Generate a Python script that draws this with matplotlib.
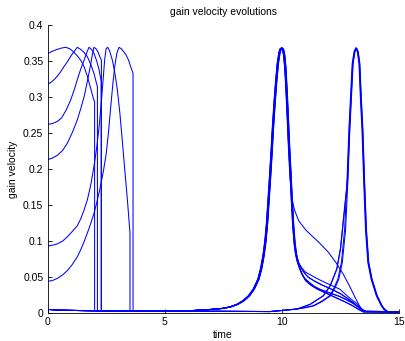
import matplotlib
matplotlib.use("Agg")
import matplotlib.pyplot as plt

# ---- left cluster: (time, gain velocity) up to the vertical drop ----
A_t = [0.0, 0.2, 0.4, 0.6, 0.78, 0.95, 1.1, 1.25, 1.42, 1.55, 1.7, 1.84, 1.95, 2.01]
A_v = [0.360, 0.3635, 0.366, 0.368, 0.369, 0.367, 0.363, 0.358, 0.351, 0.343, 0.329, 0.312, 0.299, 0.293]
B_t = [0.0, 0.14, 0.28, 0.42, 0.56, 0.7, 0.85, 1.0, 1.13, 1.27, 1.42, 1.56, 1.70, 1.85, 1.98, 2.13]
B_v = [0.318, 0.320, 0.324, 0.329, 0.335, 0.342, 0.349, 0.357, 0.363, 0.369, 0.366, 0.362, 0.356, 0.345, 0.333, 0.314]
C_t = [0.0, 0.2, 0.42, 0.6, 0.8, 0.99, 1.15, 1.27, 1.42, 1.56, 1.68, 1.77, 1.88, 1.98, 2.1, 2.2, 2.29]
C_v = [0.262, 0.263, 0.266, 0.271, 0.282, 0.296, 0.311, 0.324, 0.339, 0.351, 0.362, 0.369, 0.366, 0.361, 0.350, 0.338, 0.322]
D_t = [0.0, 0.2, 0.42, 0.65, 0.85, 1.05, 1.27, 1.42, 1.56, 1.67, 1.77, 1.85, 1.91, 1.98, 2.07, 2.15, 2.22, 2.30]
D_v = [0.213, 0.215, 0.219, 0.226, 0.236, 0.250, 0.268, 0.284, 0.300, 0.317, 0.333, 0.347, 0.358, 0.369, 0.367, 0.363, 0.357, 0.351]
E_t = [0.0, 0.2, 0.42, 0.65, 0.85, 1.05, 1.27, 1.42, 1.56, 1.7, 1.84, 1.98, 2.1, 2.2, 2.3, 2.38,
       2.44, 2.5, 2.57, 2.65, 2.77, 2.88, 2.98, 3.09, 3.19, 3.3, 3.41, 3.52]
E_v = [0.093, 0.094, 0.096, 0.100, 0.106, 0.113, 0.121, 0.131, 0.143, 0.157, 0.177, 0.203, 0.230, 0.258,
       0.294, 0.327, 0.352, 0.367, 0.369, 0.364, 0.351, 0.332, 0.310, 0.277, 0.240, 0.198, 0.157, 0.111]
F_t = [0.0, 0.2, 0.42, 0.65, 0.85, 1.05, 1.27, 1.42, 1.56, 1.7, 1.84, 1.98, 2.1, 2.24, 2.38, 2.5,
       2.6, 2.7, 2.8, 2.88, 2.96, 3.05, 3.15, 3.25, 3.34, 3.45, 3.55, 3.65]
F_v = [0.044, 0.045, 0.048, 0.053, 0.059, 0.067, 0.078, 0.088, 0.099, 0.111, 0.124, 0.138, 0.153, 0.173,
       0.196, 0.220, 0.250, 0.287, 0.322, 0.345, 0.361, 0.369, 0.367, 0.363, 0.359, 0.352, 0.342, 0.333]

# baseline level after a drop
base_t = [4.0]
base_v = [0.003]
# start of the curves that begin near zero
zero_t = [0.0, 0.5, 2.0, 4.0]
zero_v = [0.005, 0.004, 0.003, 0.003]

# ---- first peak (t = 10) ----
P1_t = [5.0, 6.0, 6.5, 7.0, 7.5, 7.8, 8.1, 8.36, 8.6, 8.8, 9.0, 9.12, 9.22, 9.30, 9.37, 9.43,
        9.50, 9.56, 9.62, 9.69, 9.76, 9.83, 9.90, 9.95, 10.0, 10.05, 10.1, 10.15, 10.2, 10.25,
        10.30, 10.36, 10.42, 10.48, 10.54, 10.6, 10.67, 10.75, 10.85, 10.99, 11.2, 11.4,
        11.63, 12.05, 12.48, 12.8, 13.05, 13.25, 13.41, 13.6, 15.0]
P1_v = [0.0025, 0.003, 0.004, 0.005, 0.0065, 0.0085, 0.012, 0.017, 0.024, 0.033, 0.047, 0.062, 0.080,
        0.100, 0.125, 0.155, 0.190, 0.222, 0.257, 0.292, 0.322, 0.347, 0.362, 0.367, 0.368, 0.366,
        0.358, 0.340, 0.310, 0.275, 0.237, 0.198, 0.158, 0.122, 0.097, 0.082, 0.072, 0.064, 0.056,
        0.048, 0.042, 0.037, 0.033, 0.028, 0.023, 0.018, 0.0135, 0.009, 0.005, 0.002, 0.0015]
# high tail variant (leaves the band after t = 10.36)
T1_t = [10.42, 10.48, 10.57, 10.75, 11.06, 11.35, 11.63, 12.0, 12.34, 12.65, 12.91, 13.15, 13.34, 13.5, 15.0]
T1_v = [0.172, 0.156, 0.143, 0.128, 0.115, 0.106, 0.0975, 0.085, 0.070, 0.054, 0.038, 0.022, 0.010, 0.003, 0.0015]
# medium tail variant (leaves the band after t = 10.6)
T2_t = [10.71, 11.0, 11.49, 12.0, 12.48, 12.85, 13.2, 13.41, 13.6, 15.0]
T2_v = [0.068, 0.057, 0.048, 0.040, 0.033, 0.022, 0.013, 0.0055, 0.002, 0.0015]
# upper / lower edges of the tail band (leave the band after t = 10.67)
T3_t = [10.75, 10.9, 11.1, 11.4, 11.7, 12.05, 12.48, 12.8, 13.05, 13.3, 13.5, 15.0]
T3_v = [0.067, 0.058, 0.050, 0.044, 0.039, 0.034, 0.027, 0.020, 0.014, 0.007, 0.002, 0.0015]
T4_t = [10.75, 10.85, 10.99, 11.2, 11.5, 11.9, 12.3, 12.7, 13.0, 13.25, 13.45, 15.0]
T4_v = [0.061, 0.053, 0.045, 0.039, 0.033, 0.027, 0.021, 0.015, 0.010, 0.005, 0.0015, 0.0015]

# ---- second peak (t = 13.17) ----
P2_t = [9.5, 10.64, 11.0, 11.35, 11.7, 12.06, 12.25, 12.41, 12.56, 12.70, 12.80, 12.88, 12.95,
        13.02, 13.10, 13.17, 13.24, 13.31, 13.37, 13.44, 13.51, 13.59, 13.69, 13.83, 14.05,
        14.26, 14.36, 14.5, 15.0]
P2_v = [0.002, 0.0055, 0.0075, 0.010, 0.016, 0.024, 0.035, 0.047, 0.070, 0.116, 0.185, 0.254, 0.300,
        0.346, 0.363, 0.368, 0.363, 0.346, 0.300, 0.254, 0.185, 0.116, 0.070, 0.047, 0.024,
        0.010, 0.0055, 0.002, 0.0015]
# earlier-rising variant of the second peak (joins at t = 12.80)
P2e_t = [9.5, 10.64, 11.2, 11.77, 12.06, 12.34, 12.5, 12.64]
P2e_v = [0.002, 0.0055, 0.012, 0.024, 0.038, 0.061, 0.090, 0.135]

# peak time offsets and tail types of the individual trajectories
P1_shift = [-0.03, -0.015, 0.0, 0.015, 0.03, -0.02, 0.005, 0.02]
P1_tail = ["T1", "main", "T2", "T3", "T4", "main", "T3", "T4"]
P2_shift = [-0.02, 0.0, 0.02, 0.01]
P2_rise = ["main", "early", "main", "early"]

P1_starts = [(A_t, A_v), (B_t, B_v), (C_t, C_v), (D_t, D_v),
             (zero_t, zero_v), (zero_t, zero_v), (zero_t, zero_v), (zero_t, zero_v)]
P2_starts = [(E_t, E_v), (F_t, F_v), (zero_t, zero_v), (zero_t, zero_v)]

tails = {"T1": (10.36, T1_t, T1_v), "T2": (10.6, T2_t, T2_v),
         "T3": (10.67, T3_t, T3_v), "T4": (10.67, T4_t, T4_v)}

fig = plt.figure(figsize=(4.06, 3.41), dpi=100)
ax = fig.add_axes([0.117, 0.0821, 0.8658, 0.8446])
blue = "#0000ff"
lw = 0.75


def start_part(st, sv):
    t = list(st)
    v = list(sv)
    if t[-1] < 4.0:
        t += [t[-1]] + base_t
        v += [0.003] + base_v
    return t, v


for (st, sv), sh, tail in zip(P1_starts, P1_shift, P1_tail):
    t, v = start_part(st, sv)
    if tail in tails:
        cut, tt, tv = tails[tail]
        keep = [i for i, x in enumerate(P1_t) if x <= cut]
        pt = [P1_t[i] + sh for i in keep] + [x + sh for x in tt]
        pv = [P1_v[i] for i in keep] + list(tv)
    else:
        pt = [x + sh for x in P1_t]
        pv = list(P1_v)
    pt[-1] = 15.0
    ax.plot(t + pt, v + pv, color=blue, lw=lw)

for (st, sv), sh, rise in zip(P2_starts, P2_shift, P2_rise):
    t, v = start_part(st, sv)
    if rise == "early":
        keep = [i for i, x in enumerate(P2_t) if x >= 12.80]
        pt = [x + sh for x in P2e_t] + [P2_t[i] + sh for i in keep]
        pv = list(P2e_v) + [P2_v[i] for i in keep]
    else:
        pt = [x + sh for x in P2_t]
        pv = list(P2_v)
    pt[-1] = 15.0
    ax.plot(t + pt, v + pv, color=blue, lw=lw)

font = "Liberation Sans"
ax.set_xlim(0, 15)
ax.set_ylim(0, 0.4)
ax.set_xticks([0, 5, 10, 15])
ax.set_xticklabels(["0", "5", "10", "15"], fontsize=7.5, fontfamily=font)
yt = [0, 0.05, 0.1, 0.15, 0.2, 0.25, 0.3, 0.35, 0.4]
ax.set_yticks(yt)
ax.set_yticklabels(["0", "0.05", "0.1", "0.15", "0.2", "0.25", "0.3", "0.35", "0.4"],
                   fontsize=7.5, fontfamily=font)
ax.tick_params(direction="in", length=3, width=0.6, pad=3)
for s in ["top", "right"]:
    ax.spines[s].set_visible(False)
for s in ["left", "bottom"]:
    ax.spines[s].set_linewidth(0.6)
ax.set_title("gain velocity evolutions", fontsize=7.5, fontfamily=font, pad=7)
ax.set_xlabel("time", fontsize=7.5, fontfamily=font, labelpad=2)
ax.set_ylabel("gain velocity", fontsize=7.5, fontfamily=font, labelpad=4)

fig.savefig("out.png", dpi=100)
